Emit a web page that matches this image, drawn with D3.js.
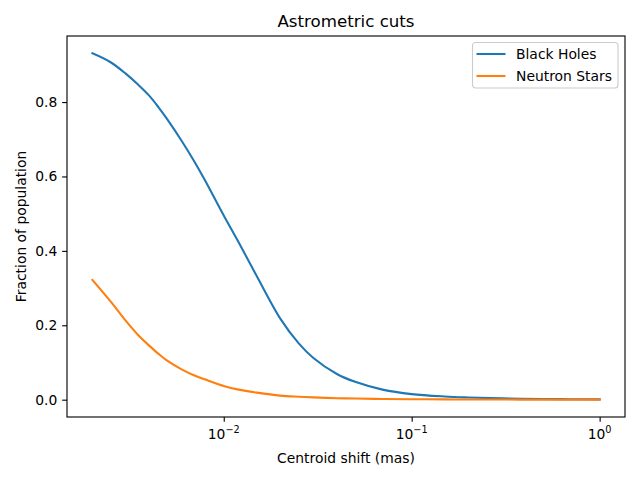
<!DOCTYPE html>
<html>
<head>
<meta charset="utf-8">
<script src="https://cdn.jsdelivr.net/npm/d3@7"></script>
<style>
  body { margin: 0; background: #fff; }
  text { font-family: "DejaVu Sans", sans-serif; fill: #000; }
</style>
</head>
<body>
<div id="chart"></div>
<script>
// values
const shifts = [0.002, 0.0025, 0.003, 0.0035, 0.004, 0.0045, 0.005, 0.006, 0.007, 0.008, 0.01, 0.012, 0.015,
  0.02, 0.025, 0.03, 0.04, 0.05, 0.07, 0.1, 0.15, 0.2, 0.3, 0.5, 0.7, 1.0];
const blackHoles = [0.931, 0.907, 0.877, 0.847, 0.818, 0.786, 0.754, 0.694, 0.639, 0.587, 0.495, 0.423, 0.332,
  0.218, 0.152, 0.112, 0.069, 0.048, 0.027, 0.015, 0.0086, 0.006, 0.0035, 0.002, 0.0012, 0.0008];
const neutronStars = [0.322, 0.264, 0.213, 0.174, 0.146, 0.123, 0.105, 0.081, 0.065, 0.054, 0.037, 0.027, 0.019,
  0.011, 0.008, 0.0062, 0.004, 0.003, 0.002, 0.0013, 0.0008, 0.0005, 0.0003, 0.0002, 0.0001, 0.0001];
const seriesNames = ["Black Holes", "Neutron Stars"];
const seriesColors = ["#1f77b4", "#ff7f0e"];
const yTicks = [0.0, 0.2, 0.4, 0.6, 0.8];
const xMajor = [-2, -1, 0];

const width = 640, height = 480;
const margin = {top: 36, right: 15, bottom: 63, left: 67};
const pt = 100 / 72;

const svg = d3.select("#chart").append("svg")
  .attr("width", width).attr("height", height);

// matplotlib style 5% margins
const lx0 = Math.log10(d3.min(shifts)), lx1 = Math.log10(d3.max(shifts));
const dlx = (lx1 - lx0) * 0.05;
const x = d3.scaleLog()
  .domain([Math.pow(10, lx0 - dlx), Math.pow(10, lx1 + dlx)])
  .range([margin.left, width - margin.right]);

const yMax = d3.max(blackHoles), yMin = 0;
const dy = (yMax - yMin) * 0.05;
const y = d3.scaleLinear()
  .domain([yMin - dy, yMax + dy])
  .range([height - margin.bottom, margin.top]);

// clip
svg.append("defs").append("clipPath").attr("id", "clip")
  .append("rect")
  .attr("x", margin.left).attr("y", margin.top)
  .attr("width", width - margin.left - margin.right)
  .attr("height", height - margin.top - margin.bottom);

const data = [
  {name: seriesNames[0], color: seriesColors[0], values: shifts.map((s, i) => ({s, v: blackHoles[i]}))},
  {name: seriesNames[1], color: seriesColors[1], values: shifts.map((s, i) => ({s, v: neutronStars[i]}))}
];

const line = d3.line()
  .x(d => x(d.s))
  .y(d => y(d.v))
  .curve(d3.curveCatmullRom.alpha(0.5));

svg.append("g").attr("clip-path", "url(#clip)")
  .selectAll("path")
  .data(data)
  .join("path")
  .attr("d", d => line(d.values))
  .attr("fill", "none")
  .attr("stroke", d => d.color)
  .attr("stroke-width", 1.5 * pt)
  .attr("stroke-linecap", "square");

// x axis
const xMinor = [];
for (let e = -3; e <= 0; e++) {
  for (let m = 2; m <= 9; m++) {
    const v = m * Math.pow(10, e);
    if (v >= x.domain()[0] && v <= x.domain()[1]) xMinor.push(v);
  }
}
const xAxisG = svg.append("g")
  .attr("transform", `translate(0,${height - margin.bottom})`);
xAxisG.call(d3.axisBottom(x).tickValues(xMinor).tickSize(2 * pt).tickFormat(""));
xAxisG.call(d3.axisBottom(x).tickValues(xMajor.map(e => Math.pow(10, e)))
  .tickSize(3.5 * pt).tickPadding(3.5 * pt).tickFormat(""));
xAxisG.select(".domain").remove();
xAxisG.selectAll(".tick line").attr("stroke", "#000").attr("stroke-width", 0.8 * pt);

const xLab = xAxisG.selectAll(".xlab")
  .data(xMajor)
  .join("text")
  .attr("class", "xlab")
  .attr("x", e => x(Math.pow(10, e)))
  .attr("y", 22)
  .attr("text-anchor", "middle")
  .style("font-size", (10 * pt) + "px");
xLab.append("tspan").text("10");
xLab.append("tspan")
  .attr("dy", -6)
  .style("font-size", (7 * pt) + "px")
  .text(e => e < 0 ? "\u2212" + Math.abs(e) : String(e));

// y axis
const yAxisG = svg.append("g")
  .attr("transform", `translate(${margin.left},0)`);
yAxisG.call(d3.axisLeft(y).tickValues(yTicks).tickSize(3.5 * pt).tickPadding(3.5 * pt)
  .tickFormat(d3.format(".1f")));
yAxisG.select(".domain").remove();
yAxisG.selectAll(".tick line").attr("stroke", "#000").attr("stroke-width", 0.8 * pt);
yAxisG.selectAll(".tick text")
  .style("font-size", (10 * pt) + "px")
  .style("font-family", "DejaVu Sans, sans-serif")
  .attr("fill", "#000");

// frame
svg.append("rect")
  .attr("x", margin.left).attr("y", margin.top)
  .attr("width", width - margin.left - margin.right)
  .attr("height", height - margin.top - margin.bottom)
  .attr("fill", "none")
  .attr("stroke", "#000")
  .attr("stroke-width", 0.8 * pt);

// labels
const cx = (margin.left + width - margin.right) / 2;
svg.append("text")
  .attr("x", cx).attr("y", 27)
  .attr("text-anchor", "middle")
  .style("font-size", (12 * pt) + "px")
  .text("Astrometric cuts");

svg.append("text")
  .attr("x", cx).attr("y", 463)
  .attr("text-anchor", "middle")
  .style("font-size", (10 * pt) + "px")
  .text("Centroid shift (mas)");

const cy = (margin.top + height - margin.bottom) / 2;
svg.append("text")
  .attr("transform", `translate(26,${cy}) rotate(-90)`)
  .attr("text-anchor", "middle")
  .style("font-size", (10 * pt) + "px")
  .text("Fraction of population");

// legend
const legend = svg.append("g").attr("transform", "translate(472.5,42.5)");
legend.append("rect")
  .attr("width", 145.5).attr("height", 45.5)
  .attr("rx", 3).attr("ry", 3)
  .attr("fill", "#fff").attr("fill-opacity", 0.8)
  .attr("stroke", "#cccccc").attr("stroke-width", 0.8 * pt);
const rows = legend.selectAll(".row")
  .data(data)
  .join("g")
  .attr("class", "row")
  .attr("transform", (d, i) => `translate(0,${11.5 + i * 22})`);
rows.append("line")
  .attr("x1", 4).attr("x2", 33)
  .attr("stroke", d => d.color)
  .attr("stroke-width", 1.5 * pt);
rows.append("text")
  .attr("x", 43.5).attr("y", 5)
  .style("font-size", (10 * pt) + "px")
  .text(d => d.name);
</script>
</body>
</html>
